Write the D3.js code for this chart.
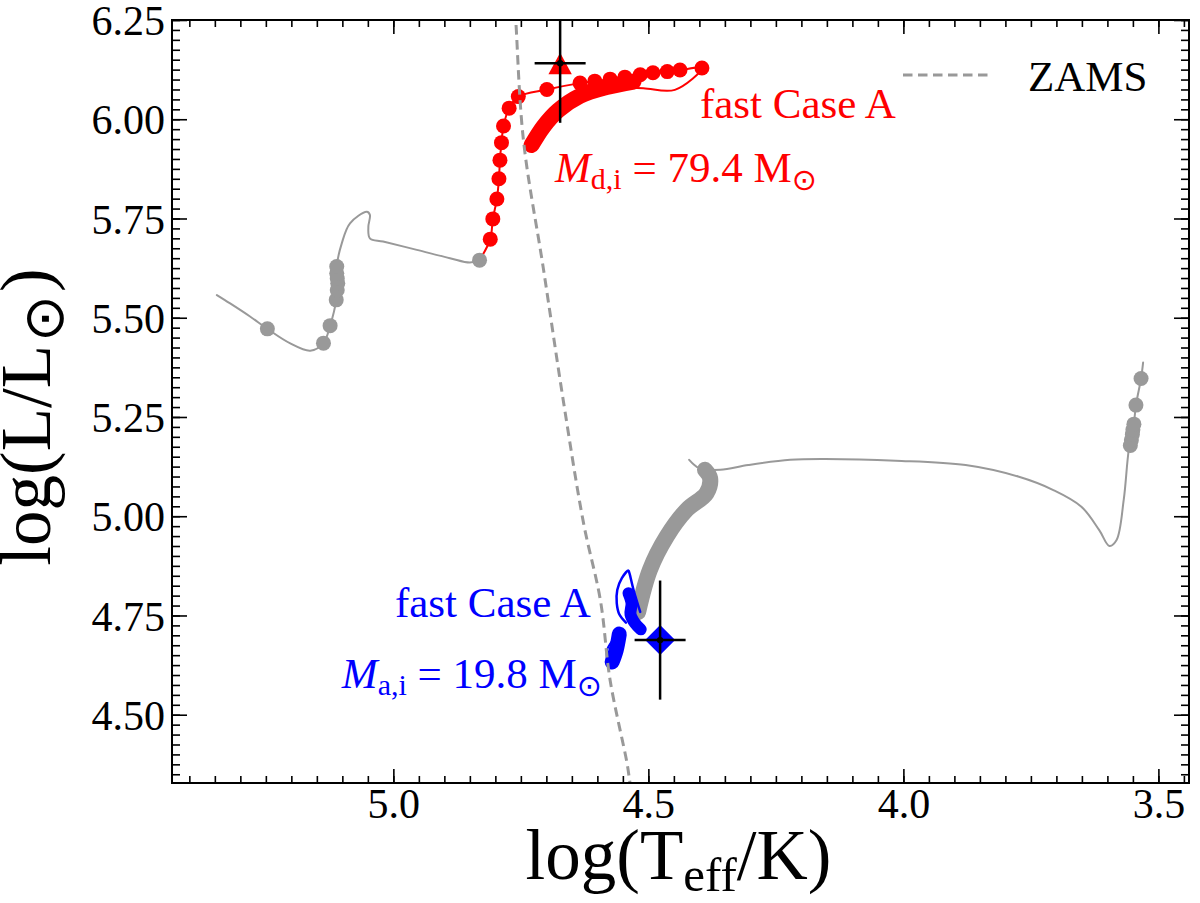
<!DOCTYPE html>
<html>
<head>
<meta charset="utf-8">
<script src="https://cdn.jsdelivr.net/npm/d3@7"></script>
<style>
  body { margin: 0; background: #fff; }
  .axis line { stroke: #000; stroke-width: 1.6; }
</style>
</head>
<body>
<svg id="chart" width="1200" height="903"></svg>
<script>
// tick values
const xMajor = [5.0, 4.5, 4.0, 3.5];
const yMajor = [4.50, 4.75, 5.00, 5.25, 5.50, 5.75, 6.00, 6.25];

// ZAMS (dashed)
const zams = [[4.765,6.35],[4.760,6.25],[4.745,5.948],[4.706,5.625],[4.667,5.293],
  [4.627,4.982],[4.594,4.788],[4.575,4.587],[4.542,4.379],[4.536,4.328],[4.530,4.28]];

// donor before mass transfer (grey)
const donorPre = [[5.346,5.557],[5.320,5.536],[5.281,5.503],[5.247,5.472],[5.203,5.436],
  [5.163,5.417],[5.137,5.436],[5.124,5.480],[5.112,5.545],[5.110,5.600],[5.111,5.629],
  [5.101,5.688],[5.085,5.738],[5.052,5.767],[5.046,5.759],[5.049,5.729],[5.046,5.700],
  [5.020,5.692],[4.954,5.671],[4.889,5.650],[4.850,5.639],[4.831,5.645]];
const donorPreDots = [[5.247,5.472],[5.137,5.436],[5.124,5.480],[5.112,5.545],[5.110,5.570],
  [5.109,5.587],[5.110,5.599],[5.111,5.612],[5.111,5.629],[4.831,5.645]];

// donor during mass transfer (red)
const donorMT = [[4.831,5.645],[4.810,5.698],[4.805,5.749],[4.797,5.799],[4.793,5.850],
  [4.791,5.897],[4.788,5.941],[4.784,5.983],[4.773,6.028],[4.755,6.057],[4.699,6.075],
  [4.634,6.091],[4.605,6.096],[4.575,6.101],[4.546,6.106],[4.516,6.112],[4.491,6.117],
  [4.463,6.120],[4.438,6.124],[4.395,6.129],[4.448,6.074],[4.510,6.078],[4.569,6.082]];
const donorMTDots = donorMT.slice(1, 20);
const donorBand = [[4.529,6.095],[4.582,6.081],[4.634,6.059],[4.677,6.022],[4.706,5.981],[4.729,5.935]];

// accretor (grey)
const accBand = [[4.520,4.759],[4.497,4.865],[4.464,4.949],[4.425,5.016],[4.386,5.058],[4.379,5.096],[4.389,5.117]];
const accPost = [[4.420,5.142],[4.400,5.121],[4.359,5.117],[4.304,5.129],[4.222,5.142],[4.153,5.144],
  [4.015,5.140],[3.878,5.129],[3.775,5.100],[3.706,5.066],[3.651,5.024],[3.616,4.965],
  [3.596,4.925],[3.582,4.940],[3.568,5.041],[3.558,5.167],[3.551,5.206],[3.548,5.232],
  [3.544,5.280],[3.534,5.347],[3.530,5.387]];
const accPostDots = [[3.555,5.178],[3.553,5.192],[3.551,5.206],[3.550,5.218],[3.548,5.232],[3.544,5.280],[3.534,5.347]];

// accretor during mass transfer (blue)
const accLoop = [[4.516,4.759],[4.529,4.814],[4.537,4.856],[4.539,4.863],[4.552,4.844],
  [4.561,4.814],[4.562,4.781],[4.557,4.753],[4.544,4.732]];
const accBlobUpper = [[4.539,4.806],[4.533,4.781],[4.535,4.753],[4.526,4.730],[4.515,4.715]];
const accBlobLower = [[4.557,4.703],[4.563,4.663],[4.571,4.633]];
const accHook = [[4.571,4.686],[4.581,4.663],[4.581,4.638]];

// observed positions with errors
const obsDonor = {logT: 4.673, logL: 6.141, errT: 0.05, errL: 0.15};
const obsAcc = {logT: 4.477, logL: 4.688, errT: 0.05, errL: 0.15};

const serif = '"Liberation Serif", "Times New Roman", Times, serif';
const grey = "#999999";

let margin = {top: 20, right: 11, bottom: 120, left: 172},
    width = 1200 - margin.left - margin.right,
    height = 903 - margin.top - margin.bottom;

let svg = d3.select("#chart");
svg.append("rect").attr("width", 1200).attr("height", 903).attr("fill", "#fff");

let x = d3.scaleLinear().domain([5.434, 3.44]).range([0, width]);
let y = d3.scaleLinear().domain([4.328, 6.25]).range([height, 0]);

let g = svg.append("g").attr("transform", "translate(" + margin.left + "," + margin.top + ")");

g.append("clipPath").attr("id", "clip")
    .append("rect").attr("width", width).attr("height", height);

let line = d3.line()
    .x(function (d) { return x(d[0]); })
    .y(function (d) { return y(d[1]); })
    .curve(d3.curveCatmullRom.alpha(0.5));

let plot = g.append("g").attr("clip-path", "url(#clip)");

function track(data, color, w) {
    plot.append("path")
        .datum(data)
        .attr("d", line)
        .attr("fill", "none")
        .attr("stroke", color)
        .attr("stroke-width", w)
        .attr("stroke-linecap", "round")
        .attr("stroke-linejoin", "round");
}
function dots(data, color, r) {
    plot.append("g").selectAll("circle")
        .data(data)
        .enter().append("circle")
        .attr("cx", function (d) { return x(d[0]); })
        .attr("cy", function (d) { return y(d[1]); })
        .attr("r", r)
        .attr("fill", color);
}

// grey tracks
track(donorPre, grey, 2);
dots(donorPreDots.slice(0, -1), grey, 7.5);
track(accPost, grey, 2);
dots(accPostDots, grey, 7.5);
track(accBand, grey, 16);

// red donor
track(donorMT, "red", 2);
track(donorBand, "red", 16);
dots(donorMTDots, "red", 7.5);
dots(donorPreDots.slice(-1), grey, 7.5);

// blue accretor
track(accLoop, "blue", 2.5);
track(accBlobUpper, "blue", 12);
track(accBlobLower, "blue", 15);
track(accHook, "blue", 2);

// ZAMS
plot.append("path")
    .datum(zams)
    .attr("d", line)
    .attr("fill", "none")
    .attr("stroke", grey)
    .attr("stroke-width", 3)
    .attr("stroke-dasharray", "9.5,5.5");

// observations
let tx = x(obsDonor.logT), ty = y(obsDonor.logL);
plot.append("path")
    .attr("d", "M" + tx + "," + (ty - 10.5) + "L" + (tx + 11.7) + "," + (ty + 11) + "L" + (tx - 11.7) + "," + (ty + 11) + "Z")
    .attr("fill", "red");
let dx = x(obsAcc.logT), dy = y(obsAcc.logL);
plot.append("path")
    .attr("d", "M" + dx + "," + (dy - 15) + "L" + (dx + 15) + "," + dy + "L" + dx + "," + (dy + 15) + "L" + (dx - 15) + "," + dy + "Z")
    .attr("fill", "blue");

[obsDonor, obsAcc].forEach(function (o) {
    let eb = plot.append("g").attr("stroke", "#000").attr("stroke-width", 2.5);
    eb.append("line")
        .attr("x1", x(o.logT - o.errT)).attr("x2", x(o.logT + o.errT))
        .attr("y1", y(o.logL)).attr("y2", y(o.logL));
    eb.append("line")
        .attr("x1", x(o.logT)).attr("x2", x(o.logT))
        .attr("y1", y(o.logL - o.errL)).attr("y2", y(o.logL + o.errL));
    plot.append("circle").attr("cx", x(o.logT)).attr("cy", y(o.logL)).attr("r", 3.2).attr("fill", "#000");
});

// axes (ticks inward, on all four sides)
let xMinor = d3.range(3.45, 5.44, 0.05);
let yMinor = d3.range(4.35, 6.251, 0.025);

function addAxis(axis, tr) {
    let a = g.append("g").attr("class", "axis").attr("transform", tr).call(axis);
    a.select(".domain").remove();
    a.attr("font-family", null).attr("font-size", null);
    a.selectAll("text")
        .style("font-family", serif)
        .style("font-size", "42px")
        .attr("fill", "#000");
    return a;
}
addAxis(d3.axisBottom(x).tickValues(xMajor).tickSize(-14).tickPadding(5).tickFormat(d3.format(".1f")), "translate(0," + height + ")");
addAxis(d3.axisBottom(x).tickValues(xMinor).tickSize(-7).tickFormat(""), "translate(0," + height + ")");
addAxis(d3.axisTop(x).tickValues(xMajor).tickSize(-14).tickFormat(""), "translate(0,0)");
addAxis(d3.axisTop(x).tickValues(xMinor).tickSize(-7).tickFormat(""), "translate(0,0)");
addAxis(d3.axisLeft(y).tickValues(yMajor).tickSize(-15).tickPadding(7).tickFormat(d3.format(".2f")), "translate(0,0)")
    .selectAll("text").attr("dy", "0.35em");
addAxis(d3.axisLeft(y).tickValues(yMinor).tickSize(-8).tickFormat(""), "translate(0,0)");
addAxis(d3.axisRight(y).tickValues(yMajor).tickSize(-15).tickFormat(""), "translate(" + width + ",0)");
addAxis(d3.axisRight(y).tickValues(yMinor).tickSize(-8).tickFormat(""), "translate(" + width + ",0)");

g.append("rect")
    .attr("width", width).attr("height", height)
    .attr("fill", "none").attr("stroke", "#000").attr("stroke-width", 2);

// axis labels
let xl = svg.append("text")
    .attr("x", margin.left + width / 2 - 2).attr("y", 879)
    .attr("text-anchor", "middle")
    .style("font-family", serif).style("font-size", "71px");
xl.append("tspan").text("log(T");
xl.append("tspan").style("font-size", "49px").attr("dy", 12).text("eff");
xl.append("tspan").attr("dy", -12).text("/K)");

let yl = svg.append("text")
    .attr("transform", "translate(50,417) rotate(-90)")
    .attr("text-anchor", "middle")
    .style("font-family", serif).style("font-size", "71px");
yl.append("tspan").text("log(L/L");
yl.append("tspan").style("font-size", "56px").attr("dx", 3).attr("dy", 13).style("font-family", "DejaVu Sans").text("\u2299");
yl.append("tspan").attr("dx", 3).attr("dy", -13).text(")");

// annotations
function note(px, py, color, parts) {
    let t = plot.append("text")
        .attr("x", x(px)).attr("y", y(py))
        .attr("fill", color)
        .style("font-family", serif).style("font-size", "43px");
    parts.forEach(function (p) {
        let s = t.append("tspan").text(p.t);
        if (p.size) s.style("font-size", p.size + "px");
        if (p.dy) s.attr("dy", p.dy);
        if (p.italic) s.style("font-style", "italic");
        if (p.font) s.style("font-family", p.font);
    });
}
note(4.399, 6.003, "red", [{t: "fast Case A"}]);
note(4.683, 5.843, "red", [
    {t: "M", italic: true}, {t: "d,i", size: 30, dy: 7}, {t: " = 79.4 M", dy: -7},
    {t: "\u2299", size: 30, dy: 8, font: "DejaVu Sans"}]);
note(4.997, 4.747, "blue", [{t: "fast Case A"}]);
note(5.101, 4.567, "blue", [
    {t: "M", italic: true}, {t: "a,i", size: 30, dy: 7}, {t: " = 19.8 M", dy: -7},
    {t: "\u2299", size: 30, dy: 8, font: "DejaVu Sans"}]);

// legend
let lg = g.append("g");
lg.append("line")
    .attr("x1", 903 - margin.left).attr("x2", 992 - margin.left)
    .attr("y1", 75 - margin.top).attr("y2", 75 - margin.top)
    .attr("stroke", grey).attr("stroke-width", 3).attr("stroke-dasharray", "9.5,5.5");
lg.append("text")
    .attr("x", 1028 - margin.left).attr("y", 91 - margin.top)
    .attr("fill", "#000")
    .style("font-family", serif).style("font-size", "43px")
    .text("ZAMS");
</script>
</body>
</html>
